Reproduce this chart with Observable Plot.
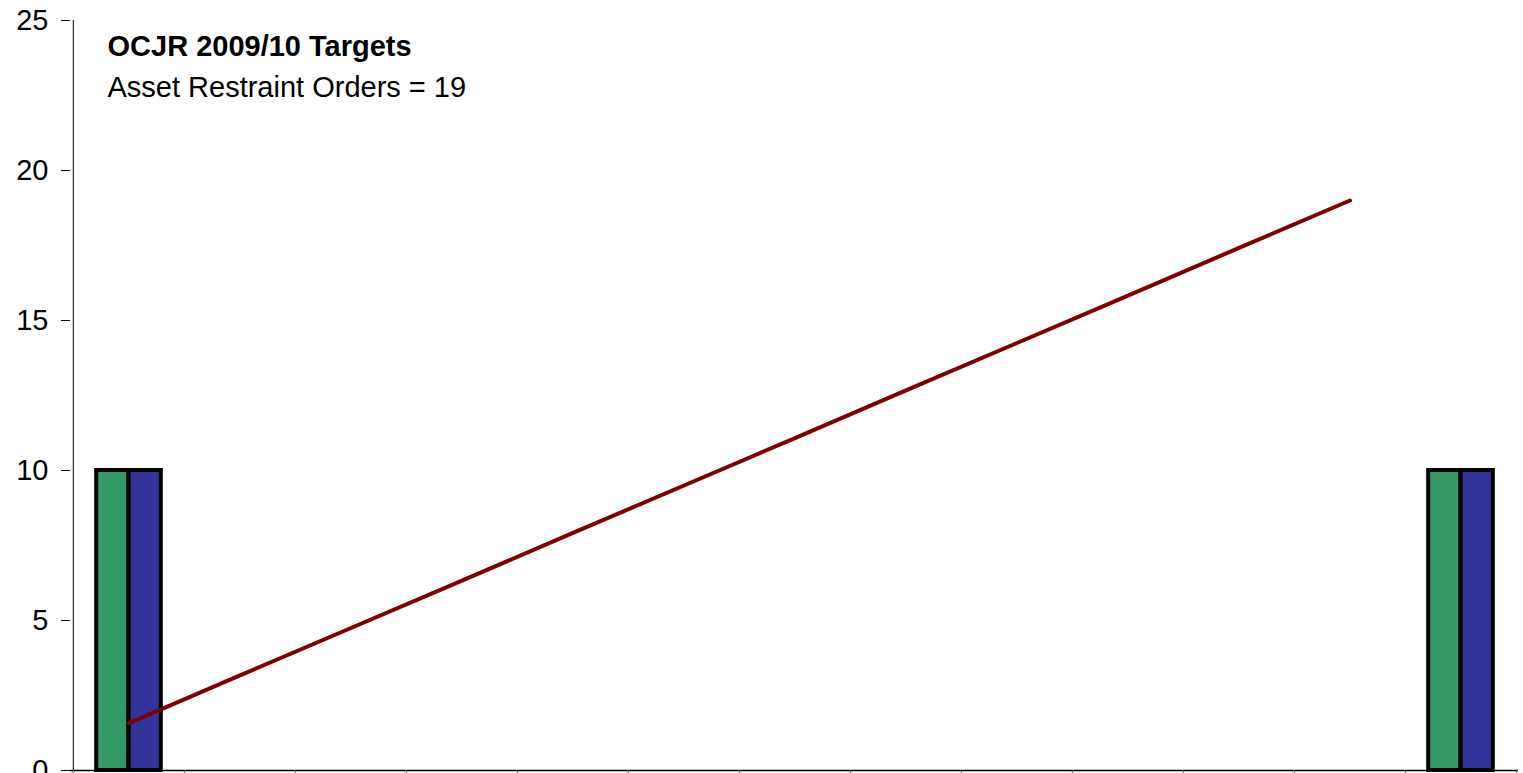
<!DOCTYPE html>
<html>
<head>
<meta charset="utf-8">
<script src="https://cdn.jsdelivr.net/npm/d3@7"></script>
<script src="https://cdn.jsdelivr.net/npm/@observablehq/plot@0.6"></script>
<style>
  html, body { margin: 0; padding: 0; overflow: hidden; background: #fff; }
  #chart { width: 1523px; height: 773px; }
</style>
</head>
<body>
<div id="chart"></div>
<script>
// ---- Data ----
const categories = ["Apr", "May", "Jun", "Jul", "Aug", "Sep", "Oct", "Nov", "Dec", "Jan", "Feb", "Mar", "Year"];
const seriesGreen = [{cat: "Apr", value: 10}, {cat: "Year", value: 10}];
const seriesBlue  = [{cat: "Apr", value: 10}, {cat: "Year", value: 10}];
const targetCats   = ["Apr", "May", "Jun", "Jul", "Aug", "Sep", "Oct", "Nov", "Dec", "Jan", "Feb", "Mar"];
const targetValues = [1.58, 3.17, 4.75, 6.33, 7.92, 9.5, 11.08, 12.67, 14.25, 15.83, 17.42, 19];
const yTicks = [0, 5, 10, 15, 20, 25];
const titleLines = ["OCJR 2009/10 Targets", "Asset Restraint Orders = 19"];

const target = targetCats.map((c, i) => ({cat: c, value: targetValues[i]}));

// ---- Layout ----
const W = 1523, H = 773;
const mL = 70, mR = 5, mT = 20, mB = 3;
const bw = (W - mL - mR) / categories.length;
const barW = 32.5;                 // width of each bar
const outer = bw / 2 - barW;       // inset from band edge to group edge

const chart = Plot.plot({
  width: W,
  height: H,
  marginLeft: mL,
  marginRight: mR,
  marginTop: mT,
  marginBottom: mB,
  style: {fontFamily: "'Liberation Sans', Arial, sans-serif", background: "#fff", overflow: "visible"},
  x: {domain: categories, padding: 0, axis: null},
  y: {domain: [0, 25], axis: null},
  marks: [
    Plot.barY(seriesGreen, {x: "cat", y: "value", fill: "#339966", stroke: "#000", strokeWidth: 4,
      insetLeft: outer, insetRight: bw / 2}),
    Plot.barY(seriesBlue, {x: "cat", y: "value", fill: "#333399", stroke: "#000", strokeWidth: 4,
      insetLeft: bw / 2, insetRight: outer}),
    Plot.line(target, {x: "cat", y: "value", stroke: "#800000", strokeWidth: 4, strokeLinecap: "round"}),
    // y axis
    Plot.axisY({ticks: yTicks, label: null, tickSize: 9, tickPadding: 13, fontSize: 29, stroke: "#000", color: "#000"}),
    Plot.ruleX([categories[0]], {dx: -bw / 2, stroke: "#000", strokeWidth: 1}),
    // x axis line and boundary ticks
    Plot.ruleY([0], {stroke: "#000", strokeWidth: 1.5}),
    Plot.ruleX(categories, {x: d => d, y1: 0, y2: 0, insetBottom: -6, dx: -bw / 2, stroke: "#555"}),
    Plot.ruleX([categories[categories.length - 1]], {x: d => d, y1: 0, y2: 0, insetBottom: -6, dx: bw / 2, stroke: "#555"}),
    // in-chart title
    Plot.text([titleLines[0]], {frameAnchor: "top-left", text: d => d, textAnchor: "start", lineAnchor: "top",
      dx: 37, dy: 15, fontSize: 29, fontWeight: "bold", fill: "#000"}),
    Plot.text([titleLines[1]], {frameAnchor: "top-left", text: d => d, textAnchor: "start", lineAnchor: "top",
      dx: 37, dy: 56, fontSize: 29, fill: "#000"})
  ]
});
document.getElementById("chart").appendChild(chart);
</script>
</body>
</html>
